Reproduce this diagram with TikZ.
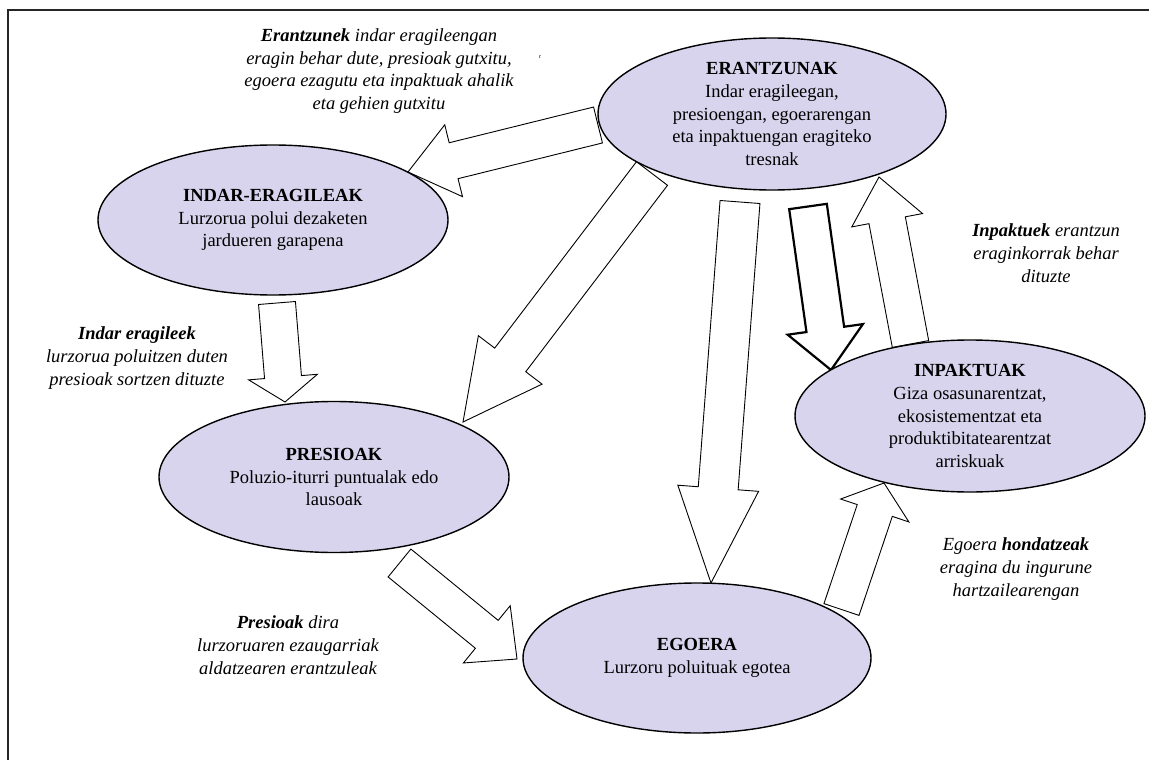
\documentclass[tikz,border=0pt]{standalone}
\usepackage{fontspec}
\setmainfont{Liberation Serif}
\usetikzlibrary{calc,shapes.geometric}
\definecolor{ellfill}{RGB}{217,212,237}
% block arrow: [style]{tail}{tip}{shaft half width}{head half width}{head length}
\newcommand\blockarr[6][]{%
  \coordinate (bah) at ($(#3)!#6!(#2)$);
  \filldraw[barrow,#1] ($(#2)!#4!90:(#3)$) -- ($(bah)!#4!90:(#3)$) -- ($(bah)!#5!90:(#3)$) -- (#3)
    -- ($(bah)!#5!-90:(#3)$) -- ($(bah)!#4!-90:(#3)$) -- ($(#2)!#4!-90:(#3)$) -- cycle;
}
\begin{document}
\begin{tikzpicture}[x=1pt,y=-1pt,
  every node/.style={font=\fontsize{18.5}{22.7}\selectfont},
  stage/.style={ellipse, draw, line width=1.4pt, fill=ellfill, inner sep=0pt},
  stagetext/.style={align=center, inner sep=0pt},
  capt/.style={align=center, inner sep=0pt, font=\fontsize{18.5}{22.7}\selectfont\itshape},
  barrow/.style={draw=black, fill=white, line width=0.9pt, line join=miter},
  frameline/.style={draw=black!85, line width=1.5pt}]
\useasboundingbox (0,0) rectangle (1149,760);
% frame
\coordinate (fr-tr) at (1149,10);
\coordinate (fr-tl) at (8,10);
\coordinate (fr-bl) at (8,760);
\draw[frameline] (fr-tr) -- (fr-tl) -- (fr-bl);

% arrow end points
\coordinate (a-tail) at (598,125);   \coordinate (a-tip) at (408,172);
\coordinate (b-tail) at (652,173.5); \coordinate (b-tip) at (463,422);
\coordinate (c-tail) at (277,303);   \coordinate (c-tip) at (285,402);
\coordinate (d-tail) at (399.5,563); \coordinate (d-tip) at (517,659);
\coordinate (e-tail) at (740,202);   \coordinate (e-tip) at (711,583);
\coordinate (f-tail) at (808,206.5); \coordinate (f-tip) at (831,370);
\coordinate (g-tail) at (910.5,344); \coordinate (g-tip) at (879,177);
\coordinate (h-tail) at (841.5,609.5); \coordinate (h-tip) at (884,483);

\blockarr{a-tail}{a-tip}{18.5pt}{37pt}{47pt}
\blockarr{b-tail}{b-tip}{19.5pt}{40pt}{78pt}
\blockarr{c-tail}{c-tip}{18.5pt}{34.5pt}{25pt}
\blockarr{d-tail}{d-tip}{18pt}{37pt}{39pt}
\blockarr{e-tail}{e-tip}{20pt}{40.5pt}{95pt}
\blockarr[line width=2.2pt]{f-tail}{f-tip}{19pt}{38pt}{41pt}
\blockarr{g-tail}{g-tip}{18.5pt}{36pt}{44pt}
\blockarr{h-tail}{h-tip}{18.5pt}{36pt}{29pt}

% stages
\node[stage, minimum width=348pt, minimum height=152pt] (erantz) at (772,114) {};
\node[stagetext] (erantz-t) at (erantz.center) {\textbf{ERANTZUNAK}\\Indar eragileegan,\\presioengan, egoerarengan\\eta inpaktuengan eragiteko\\tresnak};

\node[stage, minimum width=350pt, minimum height=150pt] (indar) at (273,220) {};
\node[stagetext] (indar-t) at (indar.center) {\textbf{INDAR-ERAGILEAK}\\Lurzorua polui dezaketen\\jardueren garapena};

\node[stage, minimum width=350pt, minimum height=151pt] (presio) at (334,477) {};
\node[stagetext] (presio-t) at (presio.center) {\textbf{PRESIOAK}\\Poluzio-iturri puntualak edo\\lausoak};

\node[stage, minimum width=348pt, minimum height=150pt] (egoera) at (697,658) {};
\node[stagetext] (egoera-t) at (egoera.center) {\textbf{EGOERA}\\Lurzoru poluituak egotea};

\node[stage, minimum width=350pt, minimum height=152pt] (inpakt) at (970,416) {};
\node[stagetext] (inpakt-t) at (inpakt.center) {\textbf{INPAKTUAK}\\Giza osasunarentzat,\\ekosistementzat eta\\produktibitatearentzat\\arriskuak};

% captions
\node[capt] (cap1) at (379,71) {\textbf{Erantzunek} indar eragileengan\\eragin behar dute, presioak gutxitu,\\egoera ezagutu eta inpaktuak ahalik\\eta gehien gutxitu};
\node[capt] (cap2) at (137,358) {\textbf{Indar eragileek}\\lurzorua poluitzen duten\\presioak sortzen dituzte};
\node[capt] (cap3) at (288,645) {\textbf{Presioak} dira\\lurzoruaren ezaugarriak\\aldatzearen erantzuleak};
\node[capt] (cap4) at (1046,253) {\textbf{Inpaktuek} erantzun\\eraginkorrak behar\\dituzte};
\node[capt] (cap5) at (1016,569) {Egoera \textbf{hondatzeak}\\eragina du ingurune\\hartzailearengan};
\node[inner sep=0pt, font=\fontsize{6}{6}\selectfont] (mark) at (540,57) {r};
\end{tikzpicture}
\end{document}
